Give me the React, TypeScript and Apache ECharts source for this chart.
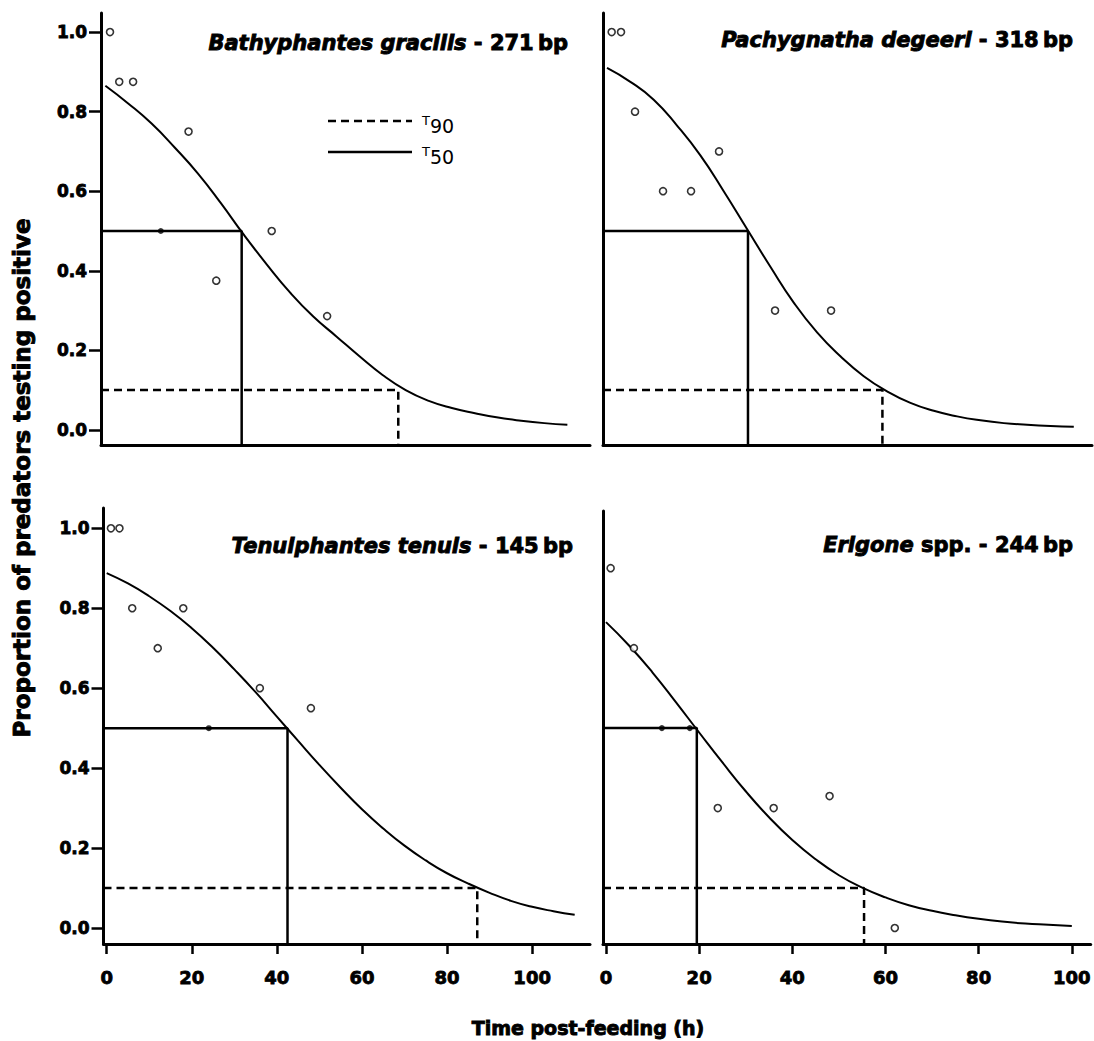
import React, { useEffect, useRef } from "react";
import * as echarts from "echarts";

const FONT = "'DejaVu Sans', 'Liberation Sans', sans-serif";

// ---------- data ----------
// Fitted curves (proportion positive), read every 5 h
const curveTimes100 = [0, 5, 10, 15, 20, 25, 30, 35, 40, 45, 50, 55, 60, 65, 70, 75, 80, 85, 90, 95, 100];
const curveTimes110 = [0, 5, 10, 15, 20, 25, 30, 35, 40, 45, 50, 55, 60, 65, 70, 75, 80, 85, 90, 95, 100, 105, 110];

const curveBathyphantes = [0.865, 0.82, 0.77, 0.71, 0.645, 0.57, 0.49, 0.415, 0.345, 0.285, 0.235, 0.185, 0.138, 0.1, 0.073, 0.055, 0.042, 0.031, 0.023, 0.017, 0.013];
const curvePachygnatha = [0.91, 0.875, 0.83, 0.765, 0.69, 0.6, 0.505, 0.41, 0.32, 0.245, 0.185, 0.135, 0.097, 0.068, 0.048, 0.034, 0.024, 0.017, 0.013, 0.01, 0.008];
const curveTenuiphantes = [0.888, 0.862, 0.83, 0.793, 0.75, 0.701, 0.647, 0.59, 0.529, 0.468, 0.408, 0.351, 0.297, 0.249, 0.206, 0.169, 0.137, 0.111, 0.088, 0.068, 0.053, 0.042, 0.033];
const curveErigone = [0.765, 0.706, 0.639, 0.565, 0.489, 0.414, 0.342, 0.277, 0.22, 0.172, 0.132, 0.101, 0.0765, 0.057, 0.043, 0.032, 0.023, 0.016, 0.011, 0.008, 0.005];

// Observed proportions (open circles)
const obsTimesBathyphantes = [1, 3, 6, 18, 24, 36, 48];
const obsBathyphantes = [1.0, 0.875, 0.875, 0.75, 0.375, 0.5, 0.286];
const obsTimesPachygnatha = [1, 3, 6, 12, 18, 24, 36, 48];
const obsPachygnatha = [1.0, 1.0, 0.8, 0.6, 0.6, 0.7, 0.3, 0.3];
const obsTimesTenuiphantes = [1, 3, 6, 12, 18, 36, 48];
const obsTenuiphantes = [1.0, 1.0, 0.8, 0.7, 0.8, 0.6, 0.55];
const obsTimesErigone = [1, 6, 24, 36, 48, 62];
const obsErigone = [0.9, 0.7, 0.3, 0.3, 0.33, 0.0];

// Observed points lying on the T50 line (filled dots)
const dotTimesBathyphantes = [12];
const dotBathyphantes = [0.5];
const dotTimesPachygnatha: number[] = [];
const dotPachygnatha: number[] = [];
const dotTimesTenuiphantes = [24];
const dotTenuiphantes = [0.5];
const dotTimesErigone = [12, 18];
const dotErigone = [0.5, 0.5];

// Detection half-lives (h)
const t50 = [29.5, 30.2, 42.5, 19.5];
const t90 = [63.4, 59.0, 87.1, 55.4];
const level50 = 0.5;
const level90 = 0.1;

// Titles
const species = ["Bathyphantes gracilis", "Pachygnatha degeeri", "Tenuiphantes tenuis", "Erigone"];
const speciesRest = [" - 271\u2009bp", " - 318\u2009bp", " - 145\u2009bp", " spp. - 244\u2009bp"];

// Ticks
const xTicks = [0, 20, 40, 60, 80, 100];
const yTicks = [0, 0.2, 0.4, 0.6, 0.8, 1.0];

const xAxisTitle = "Time post-feeding (h)";
const yAxisTitle = "Proportion of predators testing positive";

// ---------- layout (pixels / axis extents) ----------
const layout = [
  { grid: { left: 101, top: 13, width: 489, height: 432 }, xMin: -0.95, xMax: 104.9, yMin: -0.038, yMax: 1.048, showX: false, showY: true, title: { x: 568, y: 43 } },
  { grid: { left: 603, top: 13, width: 489, height: 432 }, xMin: -0.86, xMax: 103.9, yMin: -0.038, yMax: 1.048, showX: false, showY: false, title: { x: 1073, y: 40 } },
  { grid: { left: 103.5, top: 508, width: 486.5, height: 436 }, xMin: -0.75, xMax: 113.6, yMin: -0.04, yMax: 1.0508, showX: true, showY: true, title: { x: 573, y: 546 } },
  { grid: { left: 603, top: 511, width: 491, height: 433 }, xMin: -0.64, xMax: 104.05, yMin: -0.04, yMax: 1.043, showX: true, showY: false, title: { x: 1073, y: 545 } },
];

const curves = [
  [curveTimes100, curveBathyphantes],
  [curveTimes100, curvePachygnatha],
  [curveTimes110, curveTenuiphantes],
  [curveTimes100, curveErigone],
];
const obs = [
  [obsTimesBathyphantes, obsBathyphantes],
  [obsTimesPachygnatha, obsPachygnatha],
  [obsTimesTenuiphantes, obsTenuiphantes],
  [obsTimesErigone, obsErigone],
];
const dots = [
  [dotTimesBathyphantes, dotBathyphantes],
  [dotTimesPachygnatha, dotPachygnatha],
  [dotTimesTenuiphantes, dotTenuiphantes],
  [dotTimesErigone, dotErigone],
];

const zip = (a: number[], b: number[]) => a.map((v, i) => [v, b[i]]);

const HEAVY = { stroke: "#000", lineWidth: 0.9 };

function buildOption() {
  const grid: any[] = [];
  const xAxis: any[] = [];
  const yAxis: any[] = [];
  const series: any[] = [];
  const graphic: any[] = [];

  layout.forEach((p, i) => {
    grid.push({ ...p.grid });
    xAxis.push({
      type: "value",
      gridIndex: i,
      min: p.xMin,
      max: p.xMax,
      axisLine: { show: true, onZero: false, lineStyle: { color: "#000", width: 3 } },
      axisTick: { show: p.showX, customValues: xTicks, length: 10, lineStyle: { color: "#000", width: 2.5 } },
      axisLabel: {
        show: p.showX,
        customValues: xTicks,
        margin: 24,
        fontSize: 18,
        fontWeight: "bold",
        fontFamily: FONT,
        color: "#000",
        textBorderColor: "#000",
        textBorderWidth: 0.8,
      },
      splitLine: { show: false },
    });
    yAxis.push({
      type: "value",
      gridIndex: i,
      min: p.yMin,
      max: p.yMax,
      axisLine: { show: true, onZero: false, lineStyle: { color: "#000", width: 3 } },
      axisTick: { show: p.showY, customValues: yTicks, length: 12, lineStyle: { color: "#000", width: 2.5 } },
      axisLabel: {
        show: p.showY,
        customValues: yTicks,
        formatter: (v: number) => v.toFixed(1),
        margin: 14,
        fontSize: 17,
        fontWeight: "bold",
        fontFamily: FONT,
        color: "#000",
        textBorderColor: "#000",
        textBorderWidth: 0.8,
      },
      splitLine: { show: false },
    });

    // fitted curve
    series.push({
      type: "line",
      xAxisIndex: i,
      yAxisIndex: i,
      data: zip(curves[i][0], curves[i][1]),
      smooth: true,
      symbol: "none",
      lineStyle: { color: "#000", width: 2 },
      z: 3,
    });
    // T50 guide
    series.push({
      type: "line",
      xAxisIndex: i,
      yAxisIndex: i,
      data: [[p.xMin, level50], [t50[i], level50], [t50[i], p.yMin]],
      symbol: "none",
      lineStyle: { color: "#000", width: 2.5 },
      z: 2,
    });
    // T90 guide
    series.push({
      type: "line",
      xAxisIndex: i,
      yAxisIndex: i,
      data: [[p.xMin, level90], [t90[i], level90], [t90[i], p.yMin]],
      symbol: "none",
      lineStyle: { color: "#000", width: 2.5, type: [8, 5] },
      z: 2,
    });
    // observations
    series.push({
      type: "scatter",
      xAxisIndex: i,
      yAxisIndex: i,
      data: zip(obs[i][0], obs[i][1]),
      symbol: "circle",
      symbolSize: 7,
      itemStyle: { color: "#fff", borderColor: "#000", borderWidth: 1.6 },
      z: 5,
    });
    if (dots[i][0].length) {
      series.push({
        type: "scatter",
        xAxisIndex: i,
        yAxisIndex: i,
        data: zip(dots[i][0], dots[i][1]),
        symbol: "circle",
        symbolSize: 6,
        itemStyle: { color: "#000" },
        z: 5,
      });
    }

    graphic.push({
      type: "text",
      x: p.title.x,
      y: p.title.y,
      style: {
        text: `{i|${species[i]}}{b|${speciesRest[i]}}`,
        rich: {
          i: { fontStyle: "italic", fontWeight: "bold", fontSize: 21, fontFamily: FONT, fill: "#000", ...HEAVY },
          b: { fontWeight: "bold", fontSize: 21, fontFamily: FONT, fill: "#000", ...HEAVY },
        },
        fontSize: 21,
        fontWeight: "bold",
        fontFamily: FONT,
        fill: "#000",
        ...HEAVY,
        align: "right",
        textAlign: "right",
        verticalAlign: "middle",
        textVerticalAlign: "middle",
      },
    });
  });

  // legend (top-left panel)
  graphic.push(
    { type: "line", shape: { x1: 328, y1: 121, x2: 412, y2: 121 }, style: { stroke: "#000", lineWidth: 2.5, lineDash: [8, 5] } },
    { type: "line", shape: { x1: 328, y1: 152, x2: 412, y2: 152 }, style: { stroke: "#000", lineWidth: 2.5 } },
    { type: "text", x: 422, y: 120, style: { text: "T", fontSize: 13, fontFamily: FONT, fill: "#000", align: "left", textAlign: "left", verticalAlign: "middle", textVerticalAlign: "middle" } },
    { type: "text", x: 430, y: 126, style: { text: "90", fontSize: 19, fontFamily: FONT, fill: "#000", align: "left", textAlign: "left", verticalAlign: "middle", textVerticalAlign: "middle" } },
    { type: "text", x: 422, y: 151, style: { text: "T", fontSize: 13, fontFamily: FONT, fill: "#000", align: "left", textAlign: "left", verticalAlign: "middle", textVerticalAlign: "middle" } },
    { type: "text", x: 430, y: 157, style: { text: "50", fontSize: 19, fontFamily: FONT, fill: "#000", align: "left", textAlign: "left", verticalAlign: "middle", textVerticalAlign: "middle" } }
  );

  // axis titles
  graphic.push(
    {
      type: "text",
      x: 588,
      y: 1028,
      style: { text: xAxisTitle, fontSize: 19, fontWeight: "bold", fontFamily: FONT, fill: "#000", ...HEAVY, align: "center", textAlign: "center", verticalAlign: "middle", textVerticalAlign: "middle" },
    },
    {
      type: "text",
      x: 22,
      y: 478,
      rotation: Math.PI / 2,
      style: { text: yAxisTitle, fontSize: 23, fontWeight: "bold", fontFamily: FONT, fill: "#000", ...HEAVY, align: "center", textAlign: "center", verticalAlign: "middle", textVerticalAlign: "middle" },
    }
  );

  return {
    animation: false,
    backgroundColor: "#fff",
    grid,
    xAxis,
    yAxis,
    series,
    graphic,
  };
}

export default function App() {
  const ref = useRef<HTMLDivElement>(null);
  useEffect(() => {
    if (!ref.current) return;
    const chart = echarts.init(ref.current, undefined, { renderer: "svg" });
    chart.setOption(buildOption() as any);
    return () => chart.dispose();
  }, []);
  return (
    <div
      ref={ref}
      style={{ position: "absolute", left: 0, top: 0, width: 1094, height: 1041, background: "#fff" }}
    />
  );
}
